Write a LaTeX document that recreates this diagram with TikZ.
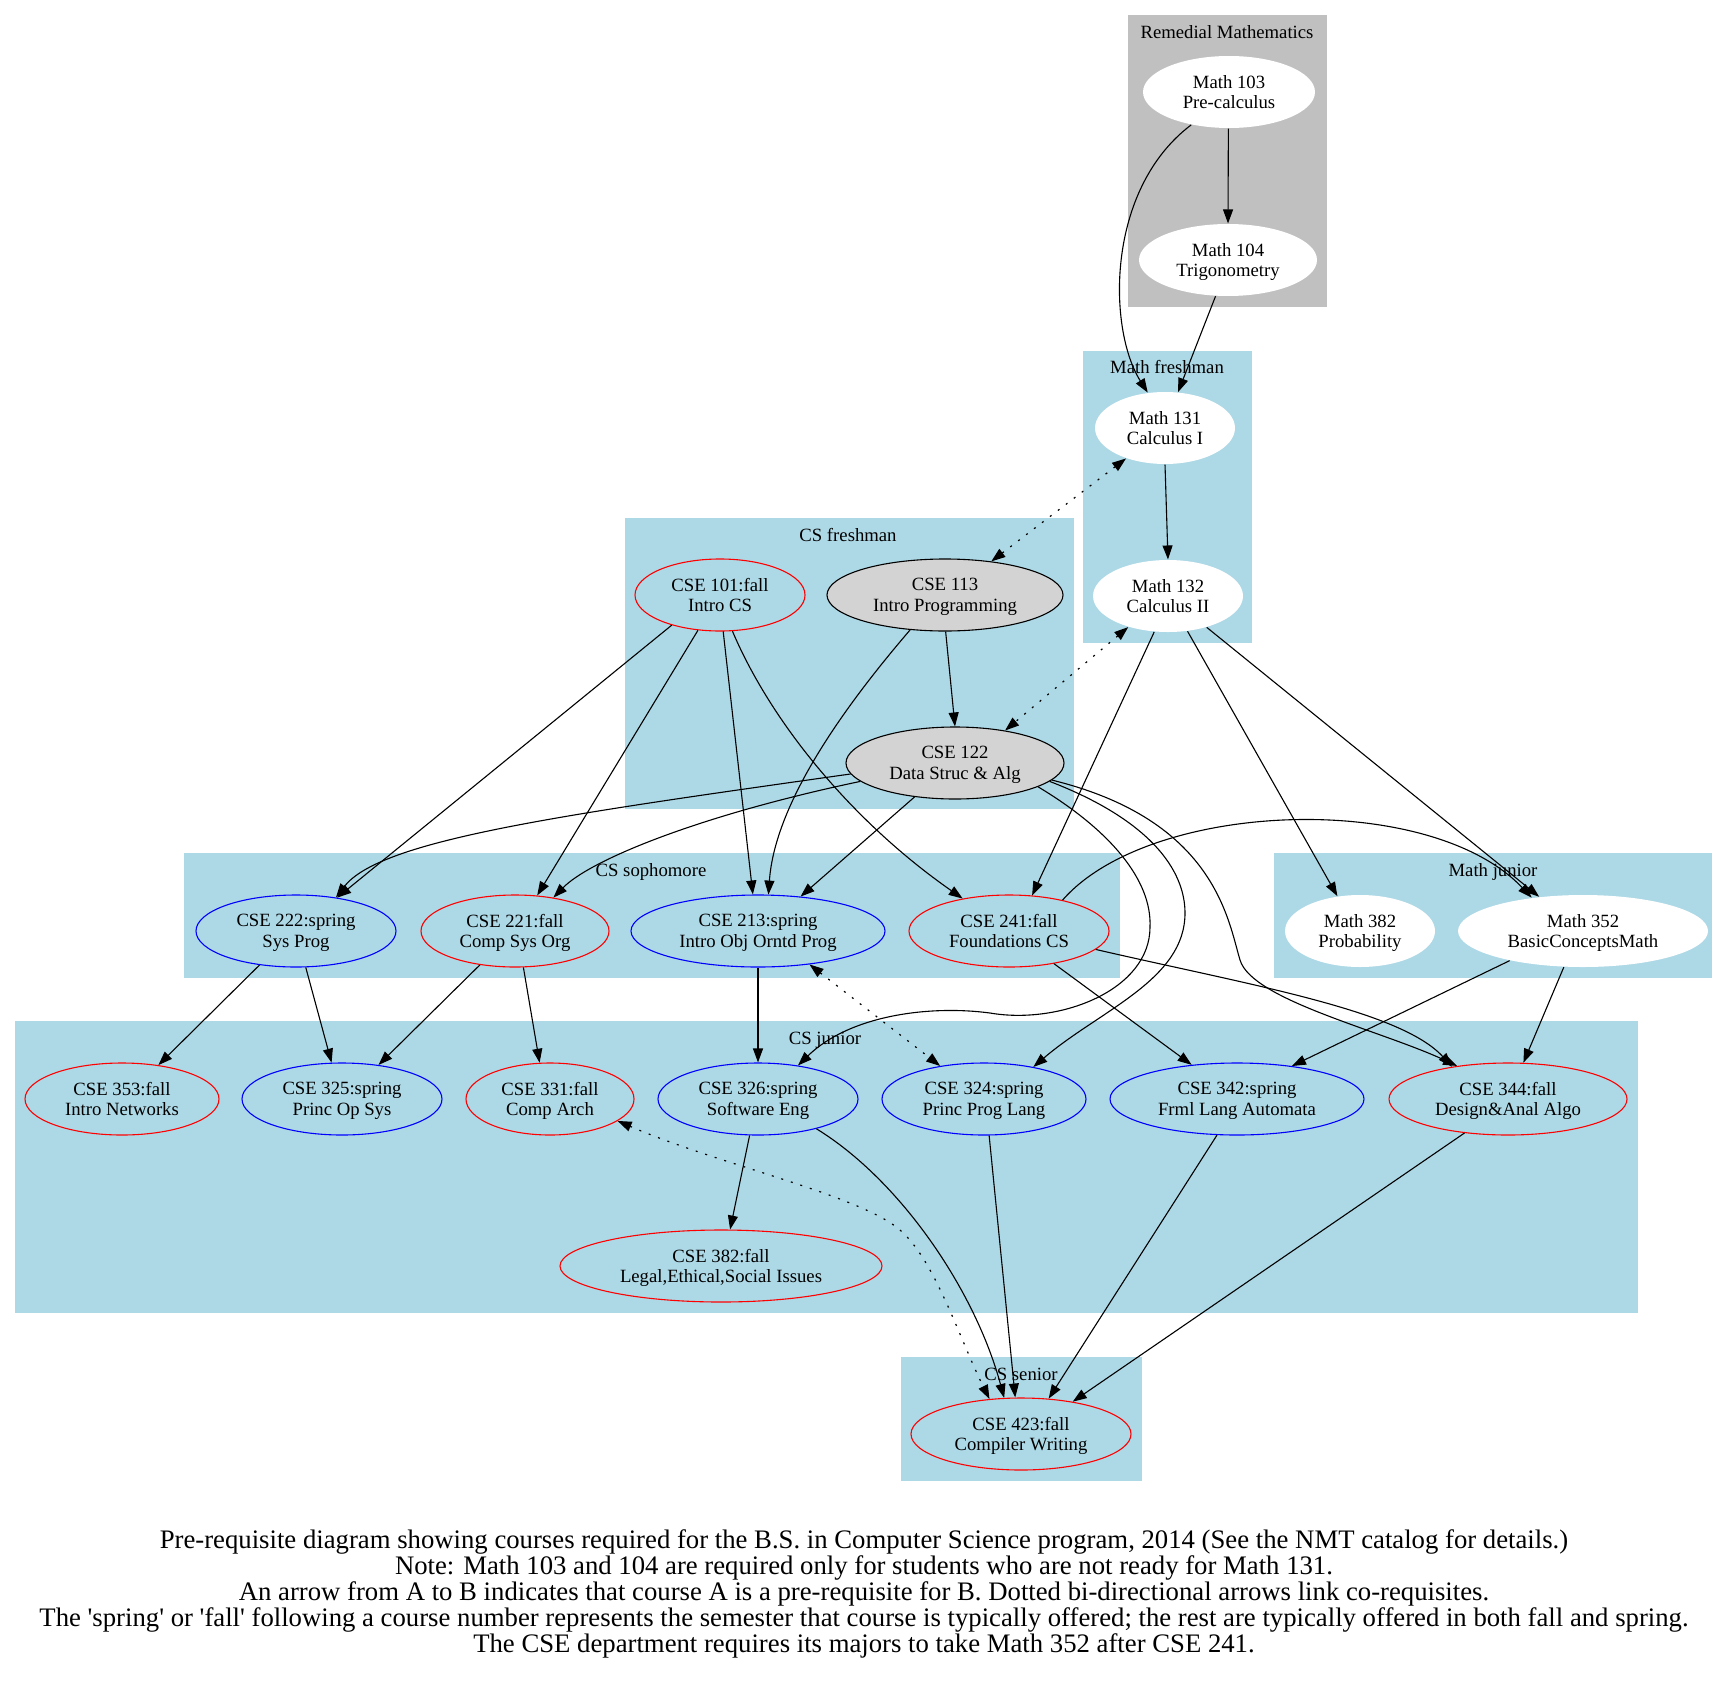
\documentclass[tikz,border=0pt]{standalone}
\usepackage{fontspec}
\setmainfont{Liberation Serif}[Ligatures=TeXOff]
\usetikzlibrary{arrows.meta,shapes.geometric}
\definecolor{clusterblue}{RGB}{173,216,230}
\definecolor{remedialgray}{RGB}{192,192,192}
\definecolor{coregray}{RGB}{211,211,211}

\begin{document}
\begin{tikzpicture}[x=0.5pt,y=-0.5pt]
    \tikzstyle{course_style} = [ellipse, minimum height=36pt, inner sep=0pt, align=center, text depth=0pt, font=\fontsize{9.35}{10.3}\selectfont, line width=0.55pt]
    \tikzstyle{math_style} = [course_style, fill=white]
    \tikzstyle{fall_style} = [course_style, draw=red]
    \tikzstyle{spring_style} = [course_style, draw=blue]
    \tikzstyle{core_style} = [course_style, draw=black, fill=coregray]
    \tikzstyle{label_style} = [font=\fontsize{9.35}{10.3}\selectfont, inner sep=0pt, text depth=0pt]
    \tikzstyle{prereq} = [-{Triangle[length=7pt,width=5pt]}, line width=0.55pt]
    \tikzstyle{coreq} = [{Triangle[length=7pt,width=5pt]}-{Triangle[length=7pt,width=5pt]}, line width=0.6pt, dash pattern=on 1pt off 4pt]

    \useasboundingbox (0,0) rectangle (1728,1686);

    % clusters
    \fill[remedialgray] (1128,15) rectangle (1327,307);
    \fill[clusterblue] (1083,351) rectangle (1252,643);
    \fill[clusterblue] (625,518) rectangle (1074,809);
    \fill[clusterblue] (184,853) rectangle (1120,978);
    \fill[clusterblue] (1274,853) rectangle (1712,978);
    \fill[clusterblue] (15,1021) rectangle (1638,1313);
    \fill[clusterblue] (901,1357) rectangle (1142,1481);

    \node[label_style] (remedial) at (1227,32) {Remedial Mathematics};
    \node[label_style] (mathfresh) at (1167,367) {Math freshman};
    \node[label_style] (csfresh) at (848,535) {CS freshman};
    \node[label_style] (cssoph) at (651,870) {CS sophomore};
    \node[label_style] (mathjun) at (1493,870) {Math junior};
    \node[label_style] (csjun) at (825,1038) {CS junior};
    \node[label_style] (cssen) at (1021,1374) {CS senior};

    % courses
    \node[math_style, minimum width=86pt] (m103) at (1229,92) {Math 103\\Pre-calculus};
    \node[math_style, minimum width=89pt] (m104) at (1228,260) {Math 104\\Trigonometry};
    \node[math_style, minimum width=70pt] (m131) at (1165,428) {Math 131\\Calculus I};
    \node[math_style, minimum width=75pt] (m132) at (1168,596) {Math 132\\Calculus II};
    \node[fall_style, minimum width=85pt] (c101) at (720,595) {CSE 101:fall\\Intro CS};
    \node[core_style, minimum width=118pt] (c113) at (945,595) {CSE 113\\Intro Programming};
    \node[core_style, minimum width=109pt] (c122) at (955,763) {CSE 122\\Data Struc \& Alg};
    \node[spring_style, minimum width=100pt] (c222) at (296,931) {CSE 222:spring\\Sys Prog};
    \node[fall_style, minimum width=94pt] (c221) at (515,931) {CSE 221:fall\\Comp Sys Org};
    \node[spring_style, minimum width=127pt] (c213) at (758,931) {CSE 213:spring\\Intro Obj Orntd Prog};
    \node[fall_style, minimum width=100pt] (c241) at (1009,931) {CSE 241:fall\\Foundations CS};
    \node[math_style, minimum width=75pt] (m382) at (1360,931) {Math 382\\Probability};
    \node[math_style, minimum width=125pt] (m352) at (1583,931) {Math 352\\BasicConceptsMath};
    \node[fall_style, minimum width=97pt] (c353) at (122,1099) {CSE 353:fall\\Intro Networks};
    \node[spring_style, minimum width=100pt] (c325) at (342,1099) {CSE 325:spring\\Princ Op Sys};
    \node[fall_style, minimum width=84pt] (c331) at (550,1099) {CSE 331:fall\\Comp Arch};
    \node[spring_style, minimum width=100pt] (c326) at (758,1099) {CSE 326:spring\\Software Eng};
    \node[spring_style, minimum width=102pt] (c324) at (984,1099) {CSE 324:spring\\Princ Prog Lang};
    \node[spring_style, minimum width=127pt] (c342) at (1237,1099) {CSE 342:spring\\Frml Lang Automata};
    \node[fall_style, minimum width=119pt] (c344) at (1508,1099) {CSE 344:fall\\Design\&Anal Algo};
    \node[fall_style, minimum width=161pt] (c382) at (721,1266) {CSE 382:fall\\Legal,Ethical,Social Issues};
    \node[fall_style, minimum width=110pt] (c423) at (1021,1434) {CSE 423:fall\\Compiler Writing};

    % pre-requisites and co-requisites
    \draw[prereq] (m103.-91) -- (m104.90);
    \draw[prereq] (m103.221) .. controls (1105,190) and (1108,330) .. (m131.116);
    \draw[prereq] (m104.251) -- (m131.70);
    \draw[prereq] (m131.-90) -- (m132.90);
    \draw[coreq] (m131.218) -- (c113.36);
    \draw[coreq] (m132.218) -- (c122.33);
    \draw[prereq] (c113.-89) -- (c122.90);
    \draw[prereq] (c101.212) -- (c222.39);
    \draw[prereq] (c101.238) -- (c221.58);
    \draw[prereq] (c101.275) -- (c213.98);
    \draw[prereq] (c101.289) .. controls (770,720) and (850,820) .. (c241.145);
    \draw[prereq] (c113.225) .. controls (850,700) and (775,800) .. (c213.74);
    \draw[prereq] (c122.186) .. controls (560,815) and (380,840) .. (c222.40);
    \draw[prereq] (c122.191) .. controls (700,815) and (590,860) .. (c221.41);
    \draw[prereq] (c122.220) -- (c213.39);
    \draw[prereq] (c122.344) .. controls (1110,830) and (1152,880) .. (1150,927)
        .. controls (1150,990) and (1060,1025) .. (990,1013)
        .. controls (930,1005) and (850,1015) .. (c326.40);
    \draw[prereq] (c122.349) .. controls (1150,820) and (1185,870) .. (1185,913)
        .. controls (1185,980) and (1100,1010) .. (c324.33);
    \draw[prereq] (c122.350) .. controls (1215,820) and (1228,920) .. (1240,960)
        .. controls (1252,1000) and (1380,1030) .. (c344.147);
    \draw[prereq] (m132.249) -- (c241.57);
    \draw[prereq] (m132.299) -- (m382.123);
    \draw[prereq] (m132.321) -- (m352.142);
    \draw[prereq] (c241.30) .. controls (1150,800) and (1430,790) .. (m352.147);
    \draw[prereq] (c241.324) -- (c342.143);
    \draw[prereq] (c241.348) .. controls (1250,985) and (1400,1010) .. (c344.150);
    \draw[prereq] (m352.202) -- (c342.31);
    \draw[prereq] (m352.242) -- (c344.67);
    \draw[prereq] (c222.223) -- (c353.43);
    \draw[prereq] (c222.285) -- (c325.106);
    \draw[prereq] (c221.224) -- (c325.43);
    \draw[prereq] (c221.283) -- (c331.106);
    \draw[prereq] (c213.-90) -- (c326.90);
    \draw[coreq] (c213.327) -- (c324.143);
    \draw[prereq] (c326.257) -- (c382.76);
    \draw[prereq] (c326.333) .. controls (900,1180) and (975,1290) .. (c423.115);
    \draw[coreq] (c331.342) .. controls (720,1165) and (860,1195) .. (900,1230)
        .. controls (935,1260) and (960,1340) .. (c423.132);
    \draw[prereq] (c324.278) -- (c423.99);
    \draw[prereq] (c342.241) -- (c423.52);
    \draw[prereq] (c344.218) -- (c423.32);

    \node[align=center, inner sep=0pt, font=\fontsize{13.36}{12.9}\selectfont] (caption) at (864,1594)
        {Pre-requisite diagram showing courses required for the B.S. in Computer Science program, 2014 (See the NMT catalog for details.)\\
         Note: Math 103 and 104 are required only for students who are not ready for Math 131.\\
         An arrow from A to B indicates that course A is a pre-requisite for B. Dotted bi-directional arrows link co-requisites.\\
         The 'spring' or 'fall' following a course number represents the semester that course is typically offered; the rest are typically offered in both fall and spring.\\
         The CSE department requires its majors to take Math 352 after CSE 241.};
\end{tikzpicture}
\end{document}
